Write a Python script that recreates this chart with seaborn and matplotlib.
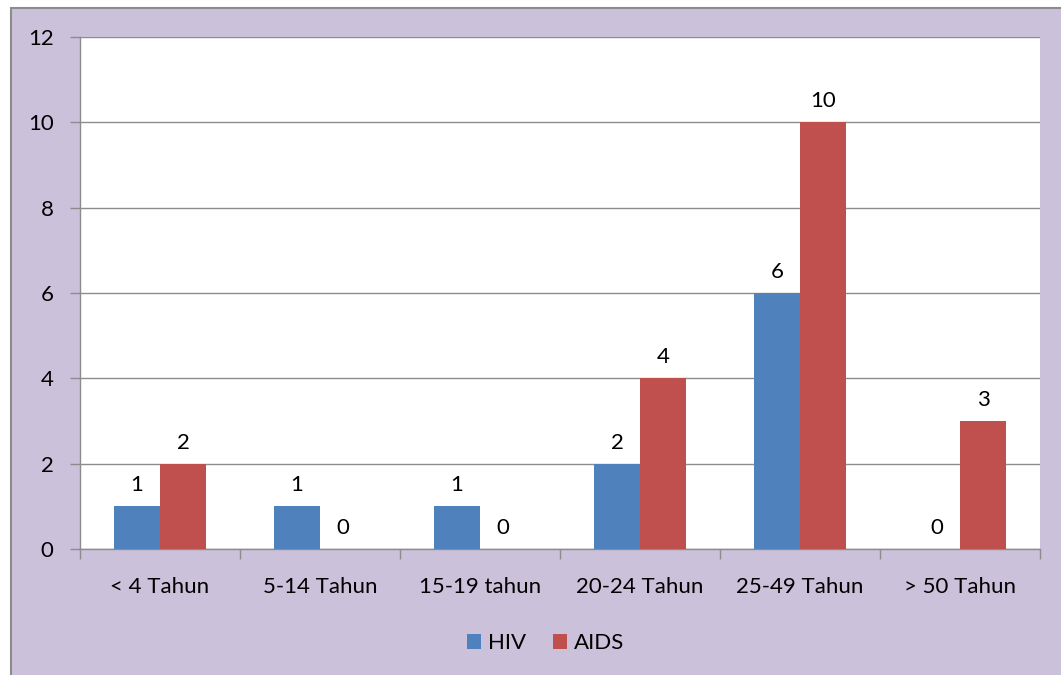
import pandas as pd
import matplotlib.pyplot as plt
import seaborn as sns
from matplotlib.patches import Rectangle

# Data
categories = ['< 4 Tahun', '5-14 Tahun', '15-19 tahun', '20-24 Tahun', '25-49 Tahun', '> 50 Tahun']
hiv = [1, 1, 1, 2, 6, 0]
aids = [2, 0, 0, 4, 10, 3]
series = ['HIV', 'AIDS']
yticks = [0, 2, 4, 6, 8, 10, 12]

df = pd.DataFrame({
    'kategori': categories * 2,
    'nilai': hiv + aids,
    'seri': ['HIV'] * len(hiv) + ['AIDS'] * len(aids),
})

sns.set_style('white')
plt.rcParams['font.family'] = ['Lato', 'DejaVu Sans']
plt.rcParams['text.color'] = 'black'
plt.rcParams['xtick.color'] = 'black'
plt.rcParams['ytick.color'] = 'black'

fig = plt.figure(figsize=(10.61, 6.75), dpi=100)
fig.patch.set_facecolor('white')
# lavender chart frame (only left/top edges visible in the crop)
fig.patches.append(Rectangle((11 / 1061, -0.1), 1.2, 1 - 8 / 675 + 0.1,
                             transform=fig.transFigure, facecolor='#CCC1DA',
                             edgecolor='#8C8C8C', linewidth=1.5, zorder=-1))

ax = fig.add_axes([80 / 1061, 1 - 549 / 675, 960 / 1061, 512 / 675])
ax.set_facecolor('white')

sns.barplot(data=df, x='kategori', y='nilai', hue='seri', hue_order=series,
            palette=['#4F81BD', '#C0504D'], width=0.575, saturation=1,
            linewidth=0, ax=ax, zorder=3)

for c in ax.containers:
    ax.bar_label(c, padding=8, fontsize=16)

ax.set_ylim(0, 12)
ax.set_yticks(yticks)
ax.set_xlim(-0.5, len(categories) - 0.5)
ax.yaxis.grid(True, color='#8C8C8C', linewidth=1)
ax.set_axisbelow(True)
ax.set_xlabel('')
ax.set_ylabel('')

for s in ['top', 'right']:
    ax.spines[s].set_visible(False)
for s in ['left', 'bottom']:
    ax.spines[s].set_color('#8C8C8C')
    ax.spines[s].set_linewidth(1)

# tick marks sit between categories on the x axis
ax.set_xticks([i - 0.5 for i in range(len(categories) + 1)], minor=False)
ax.set_xticklabels([])
ax.set_xticks(range(len(categories)), minor=True)
ax.set_xticklabels(categories, minor=True, fontsize=16)
ax.tick_params(axis='x', which='major', bottom=True, length=7, width=1,
               color='#8C8C8C', direction='out')
ax.tick_params(axis='x', which='minor', bottom=True, length=0, pad=20)
ax.tick_params(axis='y', left=True, length=7, width=1, color='#8C8C8C',
               direction='out', labelsize=16, pad=12)

leg = ax.legend(loc='upper center', bbox_to_anchor=(0.485, -0.125), ncol=2,
                frameon=False, fontsize=16, handlelength=0.65, handleheight=0.65,
                handletextpad=0.3, columnspacing=1.2)

fig.savefig('out.png', dpi=100, facecolor=fig.get_facecolor())
